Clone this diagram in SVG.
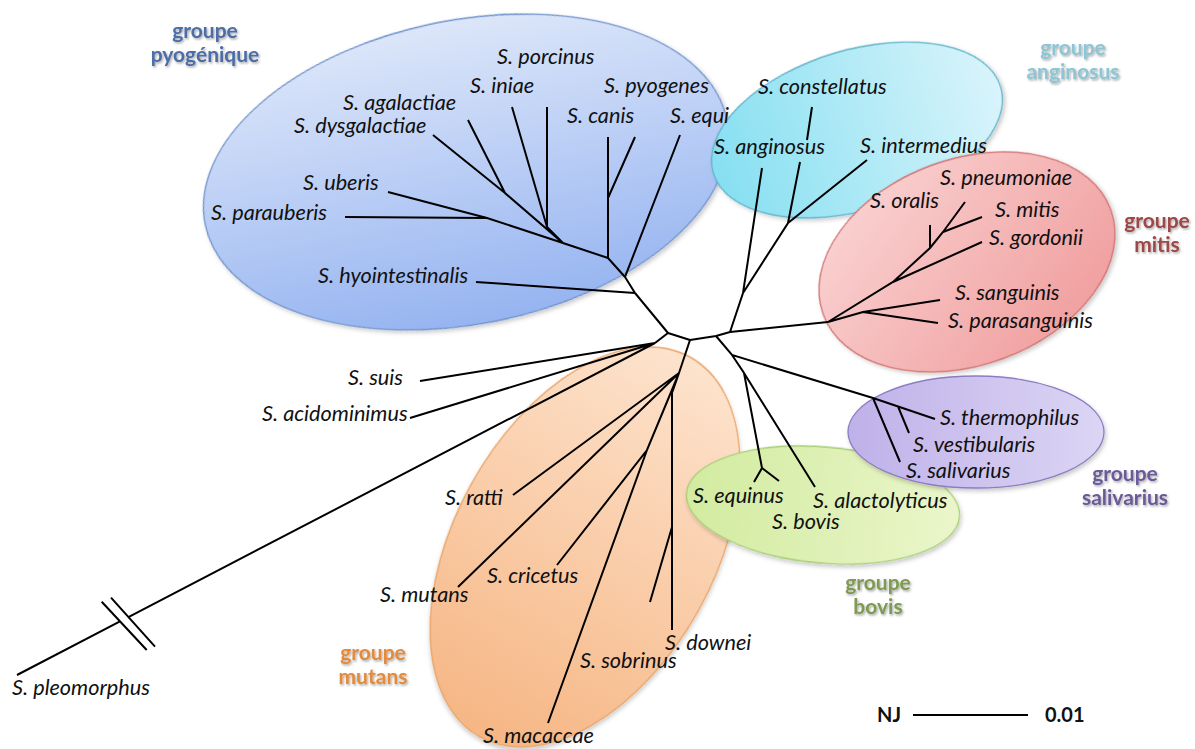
<svg xmlns="http://www.w3.org/2000/svg" width="1195" height="749" viewBox="0 0 1195 749">
<defs>
<style>
.sp{font-family:Lato,"Liberation Sans",sans-serif;font-style:italic;font-size:21.7px;fill:#111}
.grp{font-family:Lato,"Liberation Sans",sans-serif;font-weight:bold;font-size:21px;text-anchor:middle;filter:url(#tsh)}
.br{stroke:#000;stroke-width:2;fill:none;stroke-linecap:butt}
.ell{stroke-width:1.3;filter:url(#esh)}
.nj{font-family:Lato,"Liberation Sans",sans-serif;font-weight:bold;font-size:20px;fill:#111}
</style>
<filter id="esh" x="-10%" y="-10%" width="120%" height="125%"><feDropShadow dx="1.5" dy="2.5" stdDeviation="2" flood-color="#000" flood-opacity="0.22"/></filter>
<filter id="tsh" x="-10%" y="-20%" width="130%" height="150%"><feDropShadow dx="1.2" dy="1.5" stdDeviation="0.9" flood-color="#000" flood-opacity="0.35"/></filter>
<linearGradient id="gPyo" x1="0" y1="0" x2="0" y2="1"><stop offset="0" stop-color="#dce6f9"/><stop offset="1" stop-color="#96b4f1"/></linearGradient>
<linearGradient id="gAng" x1="0" y1="0" x2="1" y2="0"><stop offset="0" stop-color="#86dff1"/><stop offset="1" stop-color="#d9f4fb"/></linearGradient>
<linearGradient id="gMit" x1="0" y1="0" x2="1" y2="1"><stop offset="0" stop-color="#fbd8d8"/><stop offset="1" stop-color="#ef9797"/></linearGradient>
<linearGradient id="gSal" x1="0" y1="0" x2="1" y2="0"><stop offset="0" stop-color="#bfb1e9"/><stop offset="1" stop-color="#dcd5f4"/></linearGradient>
<linearGradient id="gBov" x1="0" y1="0" x2="1" y2="0"><stop offset="0" stop-color="#d2eba0"/><stop offset="1" stop-color="#eaf6ca"/></linearGradient>
<linearGradient id="gMut" x1="0" y1="0" x2="0" y2="1"><stop offset="0" stop-color="#fde3cd"/><stop offset="1" stop-color="#f6b684"/></linearGradient>
</defs>
<rect width="1195" height="749" fill="#fff"/>

<g id="groupe-mutans">
<ellipse class="ell" cx="0" cy="0" rx="130" ry="217" transform="translate(585,547) rotate(29)" fill="url(#gMut)" stroke="#e9a264"/>
<text class="grp" fill="#e38a3b"><tspan x="373" y="660">groupe</tspan><tspan x="373" y="684">mutans</tspan></text>
</g>
<g id="groupe-bovis">
<ellipse class="ell" cx="0" cy="0" rx="137" ry="58" transform="translate(823,505) rotate(5)" fill="url(#gBov)" stroke="#a6cd74"/>
<text class="grp" fill="#7e9a52"><tspan x="878" y="590">groupe</tspan><tspan x="878" y="614">bovis</tspan></text>
</g>
<g id="groupe-salivarius">
<ellipse class="ell" cx="976" cy="432" rx="128" ry="56" fill="url(#gSal)" stroke="#8c7ec2"/>
<text class="grp" fill="#6b5a98"><tspan x="1125" y="481">groupe</tspan><tspan x="1125" y="505">salivarius</tspan></text>
</g>
<g id="groupe-pyogenique">
<ellipse class="ell" cx="0" cy="0" rx="266" ry="152" transform="translate(466,172) rotate(-11.3)" fill="url(#gPyo)" stroke="#7093cc"/>
<text class="grp" fill="#4d6da6"><tspan x="205" y="38">groupe</tspan><tspan x="205" y="62">pyogénique</tspan></text>
</g>
<g id="groupe-anginosus">
<ellipse class="ell" cx="0" cy="0" rx="150" ry="80" transform="translate(857,130) rotate(-16.7)" fill="url(#gAng)" stroke="#5fb3c9"/>
<text class="grp" fill="#8cc6d4"><tspan x="1073" y="55">groupe</tspan><tspan x="1073" y="79">anginosus</tspan></text>
</g>
<g id="groupe-mitis">
<ellipse class="ell" cx="0" cy="0" rx="153" ry="103" transform="translate(967,262) rotate(-20)" fill="url(#gMit)" stroke="#d07070"/>
<text class="grp" fill="#9f4646"><tspan x="1157" y="228">groupe</tspan><tspan x="1157" y="252">mitis</tspan></text>
</g>

<g id="connectors">
<path class="br" d="M668,333 L690,340 M668,333 L635,293 M655,343 L668,333 M420,381 L655,343 M410,418 L655,343 M17,675 L120,621.4 M128.4,617.1 L655,343"/>
<path class="br" d="M101.7,601.7 L146.7,650 M111,597.7 L155,646.7"/>
<path class="br" d="M635,293 L476,282 M635,293 L625,277 L680,135 M625,277 L608,258 L608,137 M608,198 L635,137 M608,258 L563,243 L505,193 L468,120 M505,193 L433,135 M563,243 L547,227 L547,107 M547,227 L512,107 M563,243 L487,218 L388,192 M487,218 L345,217"/>
<path class="br" d="M690,340 L716,336 L730,332 L828,322 M730,332 L743,293 L762,168 M743,293 L788,223 L800,162 M807,140 L812,107 M788,223 L867,160"/>
<path class="br" d="M828,322 L863,312 L940,300 M863,312 L938,323 M828,322 L893,282 L982,242 M893,282 L930,248 L930,225 M930,248 L943,232 L965,202 M943,232 L982,217"/>
<path class="br" d="M716,336 L732,355 L873,398 L935,419 M898,406.5 L909,433 M873,398 L900,462 M732,355 L744,373 L762,468 L754,482 M762,468 L779,481 M744,373 L815,487"/>
<path class="br" d="M690,340 L679,373 L513,495 M679,373 L458,587 M679,373 L647,450 L557,565 M647,450 L548,723 M679,373 L672,393 L672,630 M672,527 L650,602"/>
<path class="br" d="M913,715 L1028,715"/>
</g>

<g id="sp-porcinus"><text class="sp" x="497" y="64">S. porcinus</text></g>
<g id="sp-iniae"><text class="sp" x="470" y="93">S. iniae</text></g>
<g id="sp-pyogenes"><text class="sp" x="604" y="93">S. pyogenes</text></g>
<g id="sp-agalactiae"><text class="sp" x="343" y="110">S. agalactiae</text></g>
<g id="sp-canis"><text class="sp" x="567" y="123">S. canis</text></g>
<g id="sp-equi"><text class="sp" x="670" y="123">S. equi</text></g>
<g id="sp-dysgalactiae"><text class="sp" x="294" y="133">S. dysgalactiae</text></g>
<g id="sp-uberis"><text class="sp" x="303" y="190">S. uberis</text></g>
<g id="sp-parauberis"><text class="sp" x="211" y="220">S. parauberis</text></g>
<g id="sp-hyointestinalis"><text class="sp" x="318" y="283">S. hyointestinalis</text></g>
<g id="sp-constellatus"><text class="sp" x="758" y="94">S. constellatus</text></g>
<g id="sp-anginosus"><text class="sp" x="714" y="154">S. anginosus</text></g>
<g id="sp-intermedius"><text class="sp" x="860" y="153">S. intermedius</text></g>
<g id="sp-oralis"><text class="sp" x="870" y="208">S. oralis</text></g>
<g id="sp-pneumoniae"><text class="sp" x="940" y="185">S. pneumoniae</text></g>
<g id="sp-mitis"><text class="sp" x="995" y="217">S. mitis</text></g>
<g id="sp-gordonii"><text class="sp" x="989" y="245">S. gordonii</text></g>
<g id="sp-sanguinis"><text class="sp" x="955" y="300">S. sanguinis</text></g>
<g id="sp-parasanguinis"><text class="sp" x="948" y="328">S. parasanguinis</text></g>
<g id="sp-thermophilus"><text class="sp" x="940" y="425">S. thermophilus</text></g>
<g id="sp-vestibularis"><text class="sp" x="913" y="452">S. vestibularis</text></g>
<g id="sp-salivarius"><text class="sp" x="906" y="478">S. salivarius</text></g>
<g id="sp-equinus"><text class="sp" x="693" y="503">S. equinus</text></g>
<g id="sp-alactolyticus"><text class="sp" x="813" y="508">S. alactolyticus</text></g>
<g id="sp-bovis"><text class="sp" x="772" y="529">S. bovis</text></g>
<g id="sp-suis"><text class="sp" x="348" y="385">S. suis</text></g>
<g id="sp-acidominimus"><text class="sp" x="262" y="421">S. acidominimus</text></g>
<g id="sp-ratti"><text class="sp" x="445" y="505">S. ratti</text></g>
<g id="sp-cricetus"><text class="sp" x="487" y="583">S. cricetus</text></g>
<g id="sp-mutans"><text class="sp" x="380" y="602">S. mutans</text></g>
<g id="sp-downei"><text class="sp" x="665" y="650">S. downei</text></g>
<g id="sp-sobrinus"><text class="sp" x="580" y="668">S. sobrinus</text></g>
<g id="sp-macaccae"><text class="sp" x="483" y="743">S. macaccae</text></g>
<g id="sp-pleomorphus"><text class="sp" x="12" y="695">S. pleomorphus</text></g>

<g id="scale">
<text class="nj" x="877" y="722">NJ</text>
<text class="nj" x="1045" y="722">0.01</text>
</g>
</svg>
